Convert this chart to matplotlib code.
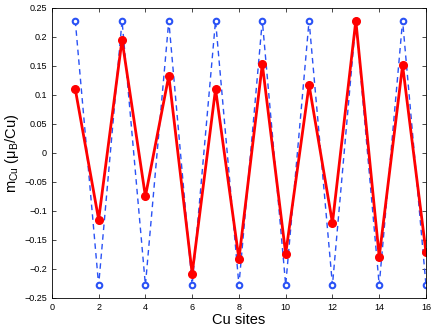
import numpy as np
import matplotlib.pyplot as plt

plt.rcParams['font.family'] = ['Liberation Sans', 'DejaVu Sans']
plt.rcParams['mathtext.fontset'] = 'custom'
plt.rcParams['mathtext.rm'] = 'Liberation Sans'
plt.rcParams['mathtext.it'] = 'Liberation Sans:italic'

sites = np.arange(1, 17)
m_blue = [0.228, -0.228] * 8
m_red = [0.110, -0.115, 0.195, -0.075, 0.133, -0.208, 0.110, -0.183,
         0.153, -0.174, 0.117, -0.121, 0.228, -0.179, 0.151, -0.171]

fig = plt.figure(figsize=(4.36, 3.27), dpi=100)
ax = fig.add_axes([0.119, 0.089, 0.858, 0.887])

ax.plot(sites, m_blue, color='#2a52f5', lw=1.0, dashes=(4, 3),
        marker='o', ms=4, mfc='white', mec='#2a52f5', mew=1.5)
ax.plot(sites, m_red, '-', color='red', lw=2.0,
        marker='o', ms=5.5, mfc='red', mec='red')

ax.set_xlim(0, 16)
ax.set_ylim(-0.25, 0.25)
ax.set_xticks(np.arange(0, 17, 2))
ax.set_yticks(np.arange(-0.25, 0.251, 0.05))
ax.set_yticklabels(['\u22120.25', '\u22120.2', '\u22120.15', '\u22120.1', '\u22120.05', '0',
                    '0.05', '0.1', '0.15', '0.2', '0.25'])
ax.tick_params(direction='in', labelsize=6.5, top=True, right=True, length=3, width=0.5)
for s in ax.spines.values():
    s.set_linewidth(0.6)
ax.set_xlabel('Cu sites', fontsize=10.5, labelpad=1)
ax.set_ylabel(r'm$_{\rm Cu}$ ($\rm \mu_{B}$/Cu)', fontsize=10.5, labelpad=2)

fig.savefig('out.png', dpi=100)
